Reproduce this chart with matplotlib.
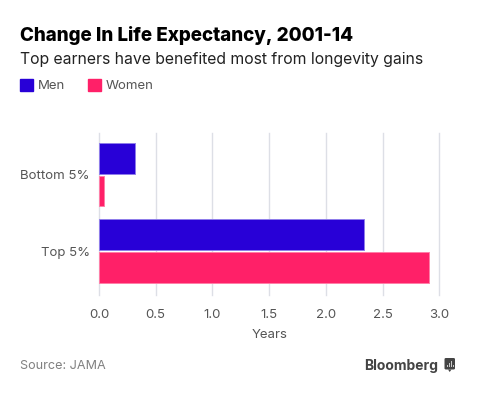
import matplotlib
matplotlib.use("Agg")
import matplotlib.pyplot as plt
import numpy as np
from matplotlib.patches import FancyBboxPatch, Patch, Polygon, Rectangle

groups = ["Bottom 5%", "Top 5%"]
men = [0.32, 2.335]
women = [0.04, 2.905]
xticks = [0.0, 0.5, 1.0, 1.5, 2.0, 2.5, 3.0]

W, H = 480, 393
MEN_COLOR = "#2800D7"
WOMEN_COLOR = "#FF2068"
GREY = "#555555"

plt.rcParams["font.family"] = ["Inter", "DejaVu Sans"]


def fx(px):
    return px / W


def fy(px):
    return 1 - px / H


def add_logo(fig):
    # small chart-bubble mark next to the wordmark
    fig.add_artist(FancyBboxPatch((fx(444.5), fy(369.5)), fx(10.5), 11.5 / H,
                                  boxstyle="round,pad=0,rounding_size=0.003",
                                  transform=fig.transFigure, facecolor="#444444", edgecolor="none"))
    fig.add_artist(Polygon([(fx(448), fy(369.5)), (fx(451.5), fy(369.5)), (fx(449.7), fy(372))],
                           transform=fig.transFigure, facecolor="#444444", edgecolor="none"))
    for left, top in [(446.5, 365), (448.5, 362.5), (450.5, 361), (452.5, 364.5)]:
        fig.add_artist(Rectangle((fx(left), fy(367)), fx(1), (367 - top) / H,
                                 transform=fig.transFigure, facecolor="#C8C8C8", edgecolor="none"))


def main():
    fig = plt.figure(figsize=(4.8, 3.93), dpi=100)
    ax = fig.add_axes([fx(99), fy(295), fx(439.5 - 99), (295 - 133) / H])

    pos = np.arange(len(groups))
    height = 31 / 77
    ax.barh(pos - 16.5 / 77, men, height, color=MEN_COLOR, edgecolor="#8F7DEB", linewidth=0.7, zorder=3)
    ax.barh(pos + 16.5 / 77, women, height, color=WOMEN_COLOR, edgecolor="#FF7FA8", linewidth=0.7, zorder=3)

    ax.set_xlim(0, 3.0)
    ax.set_ylim(1.565, -0.539)
    ax.set_yticks(pos, groups)
    ax.set_xticks(xticks, [f"{t:.1f}" for t in xticks])
    ax.tick_params(axis="both", length=0, labelsize=9.5, labelcolor=GREY)
    ax.tick_params(axis="x", pad=10)
    ax.tick_params(axis="y", pad=6.5)
    ax.grid(axis="x", color="#DDDFE6", linewidth=1, zorder=0, clip_on=False)
    ax.set_axisbelow(True)
    for spine in ax.spines.values():
        spine.set_visible(False)
    ax.set_xlabel("Years", fontsize=9.5, color=GREY, labelpad=6)

    fig.text(fx(20), fy(41), "Change In Life Expectancy, 2001-14", fontsize=13.55, fontweight="heavy", color="black")
    fig.text(fx(20), fy(64), "Top earners have benefited most from longevity gains", fontsize=11.35, color="#222222")

    handles = [Patch(color=MEN_COLOR, label="Men"), Patch(color=WOMEN_COLOR, label="Women")]
    fig.legend(handles=handles, loc="upper left", bbox_to_anchor=(fx(20), fy(79)), ncol=2, frameon=False,
               borderaxespad=0, borderpad=0, handlelength=1.0, handleheight=1.0, handletextpad=0.35,
               columnspacing=1.75, prop={"size": 9.5}, labelcolor=GREY)

    fig.text(fx(20), fy(369), "Source: JAMA", fontsize=9.1, color="#808080")
    fig.text(fx(364), fy(370), "Bloomberg", fontsize=10, fontweight="bold", color="#444444")
    add_logo(fig)

    fig.savefig("out.png", dpi=100)


if __name__ == "__main__":
    main()
